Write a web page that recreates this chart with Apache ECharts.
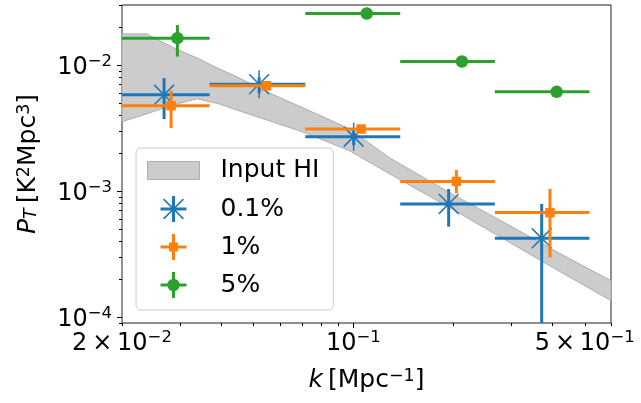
<!DOCTYPE html>
<html><head><meta charset="utf-8">
<script src="https://cdn.jsdelivr.net/npm/echarts@6/dist/echarts.min.js"></script>
<style>html,body{margin:0;padding:0;background:#fff}#c{width:641px;height:403px}</style>
</head><body><div id="c"></div>
<script>
// ---------- data ----------
const xRange = [0.02, 0.6];
const yRange = [9e-5, 3e-2];
const xTickVals = [0.02, 0.1, 0.5];
const xTickMant = ['2\u2009×\u200910', '10', '5\u2009×\u200910'];
const xTickExp  = ['−2', '−1', '−1'];
const xMinorVals = [0.02, 0.03, 0.04, 0.05, 0.06, 0.07, 0.08, 0.09, 0.2, 0.3, 0.4, 0.5, 0.6];
const yTickVals = [1e-4, 1e-3, 1e-2];
const yTickMant = ['10', '10', '10'];
const yTickExp  = ['−4', '−3', '−2'];
const yMinorVals = [9e-5, 2e-4, 3e-4, 4e-4, 5e-4, 6e-4, 7e-4, 8e-4, 9e-4, 2e-3, 3e-3, 4e-3, 5e-3, 6e-3, 7e-3, 8e-3, 9e-3, 2e-2, 3e-2];

const bandK     = [0.02, 0.02375, 0.02868, 0.03367, 0.03925, 0.04513, 0.05566, 0.07155, 0.09725, 0.1285, 0.1954, 0.2971, 0.4208, 0.6];
const bandUpper = [0.0177, 0.0177, 0.0137, 0.01142, 0.00935, 0.00793, 0.00603, 0.0045, 0.003128, 0.001842, 0.000973, 0.000533, 0.00032, 0.000195];
const bandLower = [0.003554, 0.004112, 0.004846, 0.005408, 0.004934, 0.004344, 0.00362, 0.002907, 0.002094, 0.001376, 0.00074, 0.000391, 0.00023, 0.0001356];

const blueK   = [0.0268, 0.05191, 0.1002, 0.194, 0.3705];
const blueP   = [0.005817, 0.007069, 0.002703, 0.000792, 0.000423];
const blueKlo = [0.01896, 0.03679, 0.07155, 0.1385, 0.2675];
const blueKhi = [0.03679, 0.07155, 0.1385, 0.2675, 0.5164];
const bluePlo = [0.003733, 0.0060, 0.00232, 0.000523, 0.00005];
const bluePhi = [0.00789, 0.0080, 0.00316, 0.001041, 0.000792];

const orangeK   = [0.02814, 0.05461, 0.1055, 0.2047, 0.3925];
const orangeP   = [0.004759, 0.006855, 0.003112, 0.001196, 0.000676];
const orangeKlo = [0.01896, 0.03679, 0.07155, 0.1385, 0.2675];
const orangeKhi = [0.03679, 0.07155, 0.1385, 0.2675, 0.5164];
const orangePlo = [0.003167, 0.00649, 0.00289, 0.000961, 0.000299];
const orangePhi = [0.00626, 0.00724, 0.00335, 0.001472, 0.001041];

const greenK   = [0.0294, 0.1097, 0.2128, 0.411];
const greenP   = [0.01637, 0.0257, 0.01068, 0.00614];
const greenKlo = [0.01896, 0.07155, 0.1385, 0.2675];
const greenKhi = [0.03679, 0.1385, 0.2675, 0.5164];
const greenPlo = [0.0117, 0.0248, 0.0103, 0.0059];
const greenPhi = [0.0208, 0.0266, 0.0111, 0.0064];

// ---------- build ----------
const L = Math.log10;
const FF = 'DejaVu Sans';
const C = {blue:'#1f77b4', orange:'#ff7f0e', green:'#2ca02c'};

function nearestIdx(vals, v){
  let b = 0;
  for (let i = 1; i < vals.length; i++) if (Math.abs(L(vals[i]) - v) < Math.abs(L(vals[b]) - v)) b = i;
  return b;
}

const tickRich = {
  b:{fontSize:24, fontFamily:FF, color:'#000', lineHeight:24, padding:[6,0,0,0]},
  s:{fontSize:16.5, fontFamily:FF, color:'#000', lineHeight:22, verticalAlign:'top'}
};

function errData(k, p, klo, khi, plo, phi){
  return k.map((_, i) => [L(k[i]), L(p[i]), L(klo[i]), L(khi[i]), L(plo[i]), L(phi[i])]);
}

function errSeries(name, color, data, z){
  return {
    type:'custom', name: name, z: z, silent:true,
    data: data,
    renderItem: function(params, api){
      const cs = params.coordSys;
      const cx = v => Math.max(cs.x, Math.min(cs.x + cs.width, v));
      const cy = v => Math.max(cs.y, Math.min(cs.y + cs.height, v));
      const x = api.value(0), y = api.value(1);
      const p = api.coord([x, y]);
      const a = api.coord([api.value(2), y]), b = api.coord([api.value(3), y]);
      const c = api.coord([x, api.value(4)]), d = api.coord([x, api.value(5)]);
      return {type:'group', children:[
        {type:'line', shape:{x1:cx(a[0]), y1:p[1], x2:cx(b[0]), y2:p[1]}, style:{stroke:color, lineWidth:3}},
        {type:'line', shape:{x1:p[0], y1:cy(c[1]), x2:p[0], y2:cy(d[1])}, style:{stroke:color, lineWidth:3}}
      ]};
    }
  };
}

// legend icons in a 68x36 box, content centred at x=26
const crossPath = 'M0,0 M68,36 M13,16.5 L39,16.5 L39,19.5 L13,19.5 Z M24.5,5 L27.5,5 L27.5,31 L24.5,31 Z';
const iconBand = 'path://M0,0 M68,36 M0,9 L52,9 L52,27 L0,27 Z';
const iconBlue = 'path://' + crossPath +
  ' M16.63,7.57 L36.43,27.37 L35.37,28.43 L15.57,8.63 Z M15.57,27.37 L35.37,7.57 L36.43,8.63 L16.63,28.43 Z';
const iconOrange = 'path://' + crossPath + ' M21.5,13.5 L30.5,13.5 L30.5,22.5 L21.5,22.5 Z';
const iconGreen = 'path://' + crossPath + ' M19.75,18 A6.25,6.25 0 1,1 32.25,18 A6.25,6.25 0 1,1 19.75,18 Z';

const starPath = 'path://M10,0 L10,20 M0,10 L20,10 M2.93,2.93 L17.07,17.07 M17.07,2.93 L2.93,17.07';

const xMin = L(xRange[0]), xMax = L(xRange[1]);
const yMin = L(yRange[0]), yMax = L(yRange[1]);

const nameRich = {
  i:{fontSize:25, fontFamily:FF, fontStyle:'italic', color:'#000', lineHeight:25, padding:[6,0,4,0]},
  n:{fontSize:25, fontFamily:FF, color:'#000', lineHeight:25, padding:[6,0,4,0]},
  p:{fontSize:17.5, fontFamily:FF, color:'#000', lineHeight:22, verticalAlign:'top'},
  s:{fontSize:17.5, fontFamily:FF, fontStyle:'italic', color:'#000', lineHeight:17.5, verticalAlign:'bottom'}
};

const option = {
  animation:false,
  backgroundColor:'#fff',
  grid:{left:122, right:30, top:5, bottom:80, show:true, borderColor:'#222', borderWidth:1, backgroundColor:'transparent'},
  xAxis:[
    {type:'value', min:xMin, max:xMax, position:'bottom',
     axisLine:{show:false}, splitLine:{show:false},
     axisTick:{show:true, length:5, lineStyle:{color:'#000', width:1}, customValues:[L(0.1)]},
     axisLabel:{show:true, customValues:xTickVals.map(L),
       formatter:v => { const i = nearestIdx(xTickVals, v); return '{b|' + xTickMant[i] + '}{s|' + xTickExp[i] + '}'; },
       rich:tickRich, fontSize:24, fontFamily:FF, color:'#000', margin:6},
     name:'{i|k}{n|\u2009[Mpc}{p|−1}{n|]}', nameLocation:'middle', nameGap:44,
     nameTextStyle:{fontSize:25, fontFamily:FF, color:'#000', rich:nameRich}
    },
    {type:'value', min:xMin, max:xMax, position:'bottom',
     axisLine:{show:false}, splitLine:{show:false}, axisLabel:{show:false},
     axisTick:{show:true, length:3, lineStyle:{color:'#000', width:1}, customValues:xMinorVals.map(L)}
    }
  ],
  yAxis:[
    {type:'value', min:yMin, max:yMax, position:'left',
     axisLine:{show:false}, splitLine:{show:false},
     axisTick:{show:true, length:5, lineStyle:{color:'#000', width:1}, customValues:yTickVals.map(L)},
     axisLabel:{show:true, customValues:yTickVals.map(L),
       formatter:v => { const i = nearestIdx(yTickVals, v); return '{b|' + yTickMant[i] + '}{s|' + yTickExp[i] + '}'; },
       rich:tickRich, fontSize:24, fontFamily:FF, color:'#000', margin:10},
     name:'{i|P}{s|T}{n|\u2009[K}{p|2}{n|Mpc}{p|3}{n|]}', nameLocation:'middle', nameGap:82, nameRotate:90,
     nameTextStyle:{fontSize:25, fontFamily:FF, color:'#000', rich:nameRich}
    },
    {type:'value', min:yMin, max:yMax, position:'left',
     axisLine:{show:false}, splitLine:{show:false}, axisLabel:{show:false},
     axisTick:{show:true, length:3, lineStyle:{color:'#000', width:1}, customValues:yMinorVals.map(L)}
    }
  ],
  legend:{
    show:true, orient:'vertical', left:136, top:148, z:20,
    padding:[4,14,7,11], itemWidth:68, itemHeight:36, itemGap:2,
    backgroundColor:'rgba(255,255,255,0.8)', borderColor:'#cccccc', borderWidth:1, borderRadius:5,
    selectedMode:false,
    textStyle:{fontSize:25, fontFamily:FF, color:'#000'},
    data:[
      {name:'Input HI', icon:iconBand, itemStyle:{color:'#cccccc', borderColor:'#adadad', borderWidth:1}},
      {name:'0.1%', icon:iconBlue, itemStyle:{color:C.blue, borderWidth:0}},
      {name:'1%', icon:iconOrange, itemStyle:{color:C.orange, borderWidth:0}},
      {name:'5%', icon:iconGreen, itemStyle:{color:C.green, borderWidth:0}}
    ]
  },
  series:[
    {type:'custom', name:'Input HI', z:1, silent:true,
     itemStyle:{color:'#cccccc'},
     data:[[L(0.1), L(0.001)]],
     renderItem:function(params, api){
       const pts = [];
       for (let i = 0; i < bandK.length; i++) pts.push(api.coord([L(bandK[i]), L(bandUpper[i])]));
       for (let i = bandK.length - 1; i >= 0; i--) pts.push(api.coord([L(bandK[i]), L(bandLower[i])]));
       return {type:'polygon', shape:{points:pts}, style:{fill:'#cccccc', stroke:'#adadad', lineWidth:1}};
     }
    },
    errSeries('err0.1', C.blue, errData(blueK, blueP, blueKlo, blueKhi, bluePlo, bluePhi), 2),
    {type:'scatter', name:'0.1%', z:3, silent:true,
     symbol:starPath, symbolSize:28,
     itemStyle:{color:C.blue, borderColor:C.blue, borderWidth:1.5, opacity:1},
     data:blueK.map((k, i) => [L(k), L(blueP[i])])},
    errSeries('err1', C.orange, errData(orangeK, orangeP, orangeKlo, orangeKhi, orangePlo, orangePhi), 4),
    {type:'scatter', name:'1%', z:5, silent:true,
     symbol:'rect', symbolSize:9.5,
     itemStyle:{color:C.orange, opacity:1},
     data:orangeK.map((k, i) => [L(k), L(orangeP[i])])},
    errSeries('err5', C.green, errData(greenK, greenP, greenKlo, greenKhi, greenPlo, greenPhi), 6),
    {type:'scatter', name:'5%', z:7, silent:true,
     symbol:'circle', symbolSize:12.5,
     itemStyle:{color:C.green, opacity:1},
     data:greenK.map((k, i) => [L(k), L(greenP[i])])}
  ]
};

const chart = echarts.init(document.getElementById('c'), null, {renderer:'canvas'});
chart.setOption(option);
</script></body></html>
